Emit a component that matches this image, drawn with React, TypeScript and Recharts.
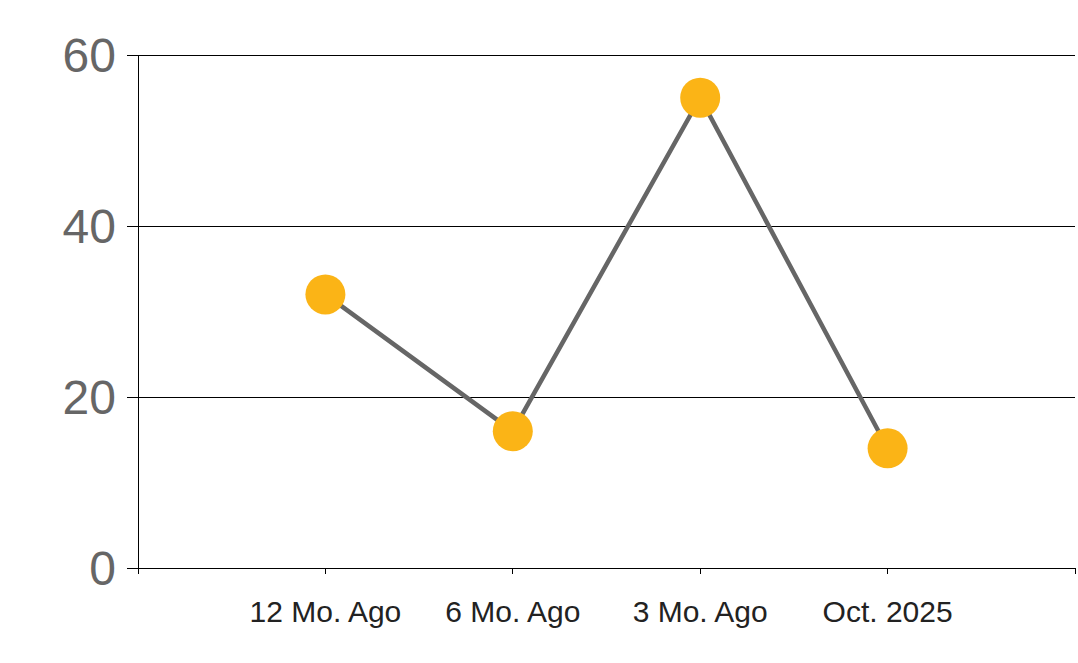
import React from "react";
import { LineChart, Line, XAxis, YAxis, CartesianGrid } from "recharts";

const periods: string[] = ["12 Mo. Ago", "6 Mo. Ago", "3 Mo. Ago", "Oct. 2025"];
const values: number[] = [32, 16, 55, 14];
const yTicks: number[] = [0, 20, 40, 60];

// points sit on ticks 1..4, with an empty slot each side
const data = periods.map((label, i) => ({ pos: i + 1, label, value: values[i] }));
const xTicks = [0, 1, 2, 3, 4, 5];

const fontFamily = "'Liberation Sans', Arial, sans-serif";

const App: React.FC = () => {
  return (
    <div style={{ position: "absolute", left: 0, top: 0, background: "#fff" }}>
      <LineChart
        width={1078}
        height={663}
        data={data}
        margin={{ top: 55, right: 3, bottom: 0, left: 0 }}
      >
        <CartesianGrid
          vertical={false}
          stroke="#000"
          strokeWidth={1}
          shapeRendering="crispEdges"
        />
        <XAxis
          dataKey="pos"
          type="number"
          domain={[0, 5]}
          ticks={xTicks}
          tickFormatter={(v: number) => periods[v - 1] ?? ""}
          height={95}
          axisLine={{ stroke: "#000", shapeRendering: "crispEdges" }}
          tickLine={{ stroke: "#000", shapeRendering: "crispEdges" }}
          tickSize={6}
          tickMargin={27}
          tick={{ fill: "#222", fontSize: 30, fontFamily }}
          interval={0}
        />
        <YAxis
          domain={[0, 60]}
          ticks={yTicks}
          width={138}
          axisLine={{ stroke: "#000", shapeRendering: "crispEdges" }}
          tickLine={{ stroke: "#000", shapeRendering: "crispEdges" }}
          tickSize={11}
          tickMargin={11}
          tick={{ fill: "#666", fontSize: 48, fontFamily }}
        />
        <Line
          dataKey="value"
          stroke="#666"
          strokeWidth={4.5}
          dot={{ r: 20, fill: "#FBB416", stroke: "none" }}
          activeDot={false}
          isAnimationActive={false}
        />
      </LineChart>
    </div>
  );
};

export default App;
